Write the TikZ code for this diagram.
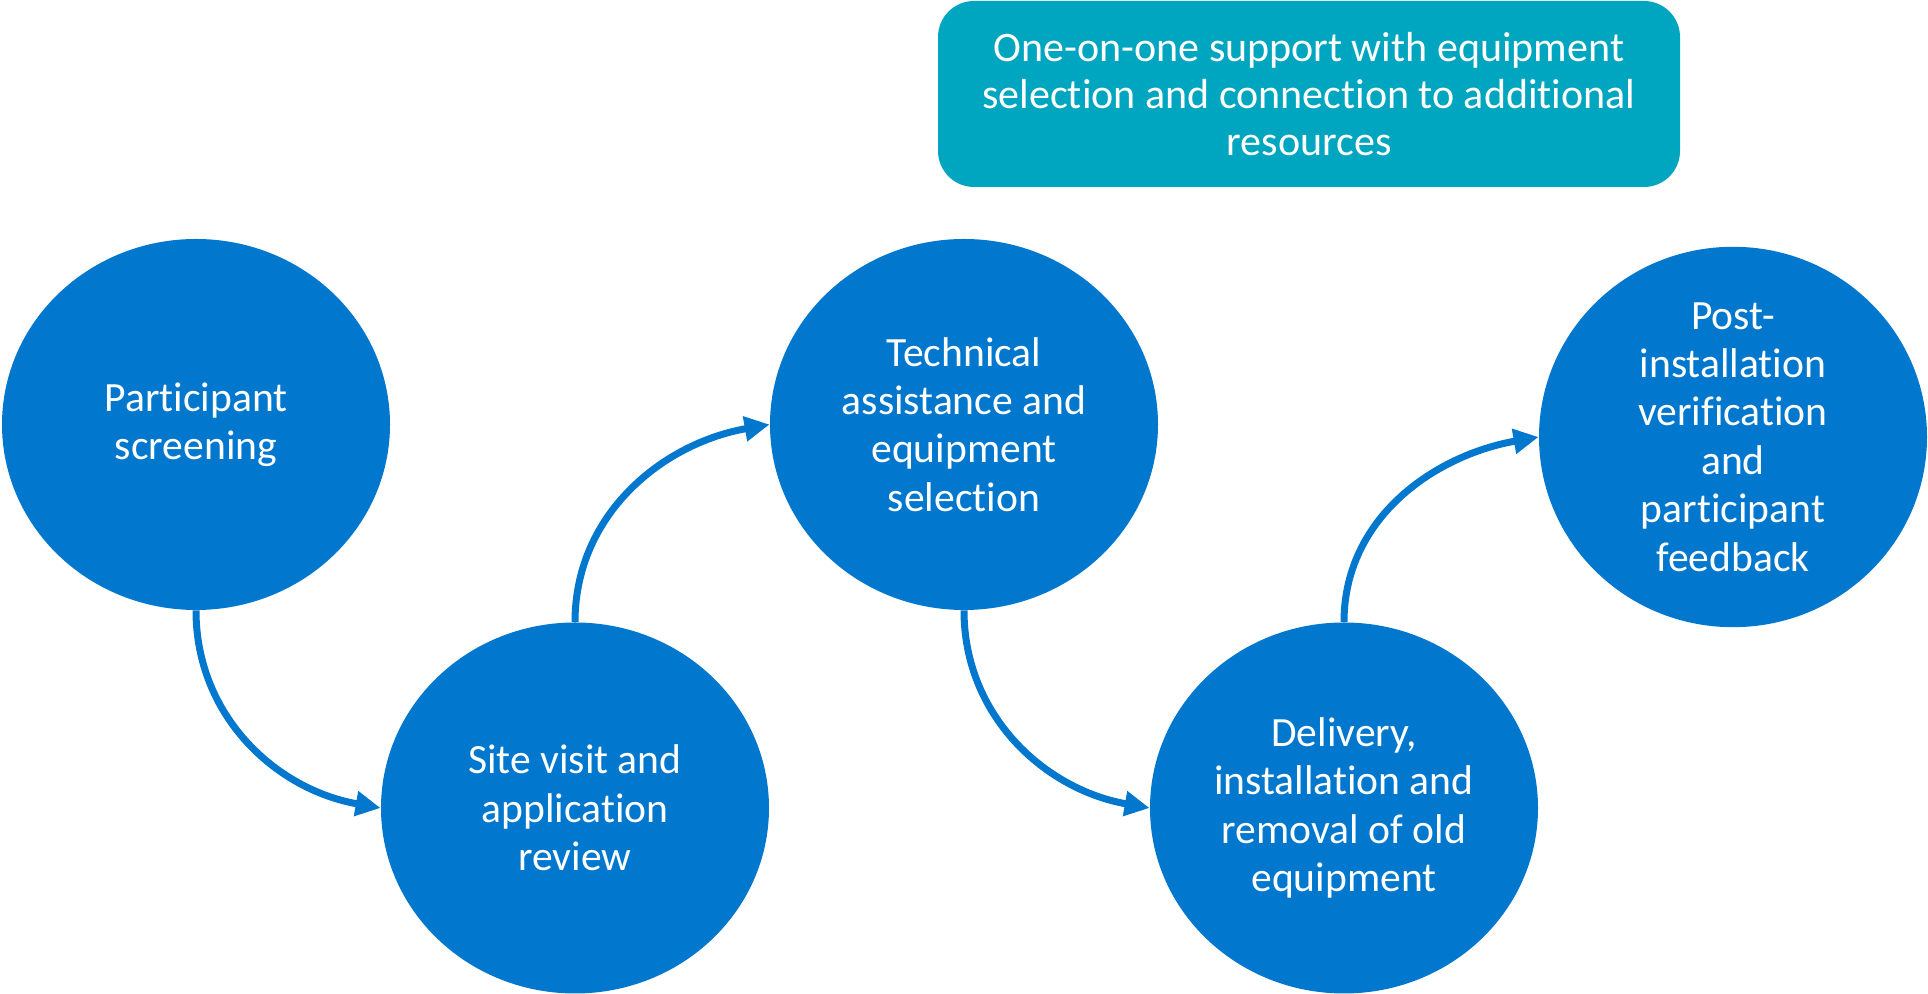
\documentclass[tikz,border=0pt]{standalone}
\usepackage{fontspec}
\setmainfont{Carlito}[Ligatures=NoCommon]
\usetikzlibrary{shapes.geometric,arrows.meta}
\definecolor{stepblue}{RGB}{2,119,206}
\definecolor{noteteal}{RGB}{0,165,192}

\begin{document}
\begin{tikzpicture}[x=0.5pt, y=0.5pt,
	stage/.style={ellipse, fill=stepblue, text=white, minimum width=194pt, minimum height=185.5pt, inner sep=0pt, align=center, font=\fontsize{20.8}{24.2}\selectfont},
	note/.style={rectangle, rounded corners=18pt, fill=noteteal, text=white, minimum width=371pt, minimum height=93pt, align=center, font=\fontsize{21}{23.5}\selectfont},
	flow/.style={draw=stepblue, line width=3.5pt, -{Triangle[length=12.5pt,width=12pt]}}]
	\useasboundingbox (0,0) rectangle (1928,994);
	\node[stage] at (196,569.5) (E1) {Participant\\screening};
	\node[stage] at ([xshift=189.5pt,yshift=-191.75pt]E1.center) (E2) {Site visit and\\application\\review};
	\node[stage] at ([xshift=194.5pt,yshift=191.75pt]E2.center) (E3) {Technical\\assistance and\\equipment\\selection};
	\node[stage] at ([xshift=190pt,yshift=-191.75pt]E3.center) (E4) {Delivery,\\installation and\\removal of old\\equipment};
	\node[stage] at ([xshift=194.5pt,yshift=185.5pt]E4.center) (E5) {Post-\\installation\\verification\\and\\participant\\feedback};
	\node[note] at (1309,900) (N1) {One-on-one support with equipment\\selection and connection to additional\\resources};
	\draw[flow] (E1.south) to[out=-90,in=170] (E2.west);
	\draw[flow] (E2.north) to[out=90,in=190] (E3.west);
	\draw[flow] (E3.south) to[out=-90,in=170] (E4.west);
	\draw[flow] (E4.north) to[out=90,in=190] (E5.west);
\end{tikzpicture}
\end{document}
